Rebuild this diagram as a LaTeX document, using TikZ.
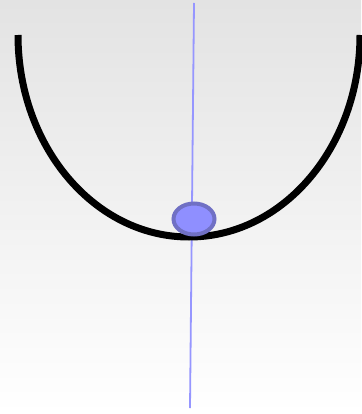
\documentclass[tikz,border=0pt]{standalone}
\usetikzlibrary{shapes.geometric, positioning}
\definecolor{cB}{RGB}{143,143,255}
\definecolor{cE}{RGB}{112,112,196}
\definecolor{cL}{RGB}{150,150,255}

\begin{document}
\begin{tikzpicture}[x=1pt, y=-1pt,
                    ball/.style={ellipse, fill=cB, draw=cE, line width=4pt,
                                 minimum width=41pt, minimum height=31pt, inner sep=0pt}]

    % Background and frame
    \shade[top color=black!11, bottom color=white] (0,0) rectangle (361,414);
    \useasboundingbox (0,0) rectangle (361,414);

    % Vertical axis
    \coordinate (axisTop) at (194,3);
    \coordinate (axisBot) at (190,408);
    \draw[cL, line width=1.8pt] (axisTop) -- (axisBot);

    % The bowl
    \coordinate (bowlL) at (18,35);
    \draw[line width=7pt] (bowlL) arc[start angle=180, end angle=0, x radius=171, y radius=202];

    % The ball
    \node[ball] (B) at (194,219) {};

\end{tikzpicture}
\end{document}
